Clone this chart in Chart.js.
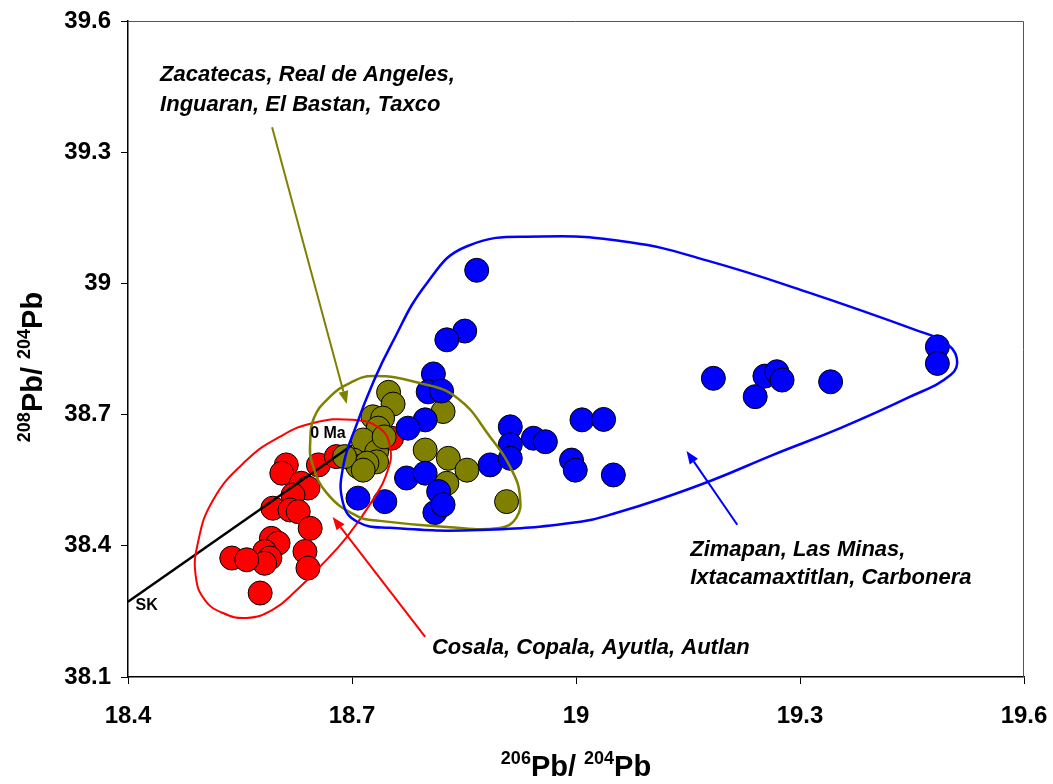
<!DOCTYPE html>
<html>
<head>
<meta charset="utf-8">
<script src="https://cdn.jsdelivr.net/npm/chart.js@4.4.0/dist/chart.umd.min.js"></script>
<style>
  html, body { margin: 0; padding: 0; background: #fff; }
  #wrap { width: 1053px; height: 784px; }
</style>
</head>
<body>
<div id="wrap"><canvas id="pb-chart" width="1053" height="784"></canvas></div>
<script>
// tick labels
const xTicks = [18.4, 18.7, 19, 19.3, 19.6];
const yTicks = [38.1, 38.4, 38.7, 39, 39.3, 39.6];

// Cosala, Copala, Ayutla, Autlan
const redX = [18.612, 18.606, 18.655, 18.679, 18.632, 18.641, 18.621, 18.594, 18.617, 18.628, 18.644,
  18.592, 18.601, 18.583, 18.590, 18.583, 18.539, 18.559, 18.637, 18.641, 18.577, 18.753];
const redY = [38.585, 38.566, 38.585, 38.604, 38.543, 38.532, 38.516, 38.486, 38.482, 38.478, 38.440,
  38.417, 38.406, 38.387, 38.372, 38.360, 38.372, 38.368, 38.387, 38.349, 38.292, 38.646];

// Zacatecas, Real de Angeles, Inguaran, El Bastan, Taxco
const oliveX = [18.749, 18.755, 18.728, 18.741, 18.735, 18.724, 18.715, 18.733, 18.702, 18.708, 18.733,
  18.720, 18.690, 18.822, 18.798, 18.829, 18.854, 18.827, 18.907, 18.743, 18.715];
const oliveY = [38.751, 38.724, 38.695, 38.692, 38.669, 38.631, 38.642, 38.615, 38.596, 38.581, 38.592,
  38.589, 38.604, 38.707, 38.619, 38.600, 38.573, 38.543, 38.501, 38.649, 38.573];

// Zimapan, Las Minas, Ixtacamaxtitlan, Carbonera
const blueX = [18.867, 18.851, 18.827, 18.809, 18.802, 18.820, 18.798, 18.775, 18.708, 18.744, 18.773,
  18.798, 18.816, 18.811, 18.822, 18.885, 18.912, 18.912, 18.912, 18.943, 18.959, 18.994, 18.999,
  19.008, 19.037, 19.050, 19.184, 19.240, 19.253, 19.269, 19.276, 19.341, 19.484, 19.484];
const blueY = [39.030, 38.891, 38.871, 38.793, 38.752, 38.754, 38.688, 38.669, 38.509, 38.501, 38.555,
  38.566, 38.524, 38.476, 38.494, 38.585, 38.672, 38.631, 38.600, 38.646, 38.638, 38.596, 38.573,
  38.688, 38.689, 38.562, 38.783, 38.741, 38.788, 38.798, 38.779, 38.775, 38.855, 38.817];

// Stacey-Kramers growth curve, ends at 0 Ma
const skX = [18.4, 18.7];
const skY = [38.272, 38.630];

// hand drawn field outlines
const redEnvX = [18.701, 18.737, 18.751, 18.748, 18.728, 18.693, 18.657, 18.626, 18.594, 18.559, 18.526,
  18.503, 18.491, 18.493, 18.514, 18.559, 18.603, 18.648];
const redEnvY = [38.688, 38.669, 38.626, 38.573, 38.505, 38.420, 38.352, 38.299, 38.254, 38.235, 38.247,
  38.276, 38.327, 38.402, 38.505, 38.596, 38.649, 38.681];
const oliveEnvX = [18.728, 18.791, 18.841, 18.885, 18.914, 18.925, 18.920, 18.898, 18.827, 18.737, 18.707,
  18.666, 18.646, 18.644, 18.649, 18.670, 18.697];
const oliveEnvY = [38.788, 38.772, 38.738, 38.649, 38.573, 38.512, 38.464, 38.441, 38.443, 38.457, 38.468,
  38.521, 38.592, 38.635, 38.692, 38.740, 38.772];
const blueEnvX = [18.854, 18.953, 19.072, 19.176, 19.310, 19.459, 19.493, 19.510, 19.502, 19.444, 19.354,
  19.264, 19.184, 19.113, 19.059, 19.006, 18.871, 18.751, 18.707, 18.688, 18.688, 18.707, 18.728, 18.751, 18.800];
const blueEnvY = [39.085, 39.107, 39.094, 39.052, 38.980, 38.891, 38.866, 38.829, 38.791, 38.738, 38.669,
  38.608, 38.551, 38.507, 38.478, 38.455, 38.436, 38.441, 38.455, 38.498, 38.580, 38.681, 38.772, 38.855, 39.000];

const RED = '#ff0000';
const OLIVE = '#808000';
const BLUE = '#0000ff';
const FONT = 'Arial, "Liberation Sans", Helvetica, sans-serif';

// annotations, in data units
const arrows = [
  { color: OLIVE, from: [18.593, 39.357], to: [18.693, 38.724] },
  { color: RED, from: [18.798, 38.192], to: [18.674, 38.466] },
  { color: BLUE, from: [19.216, 38.448], to: [19.148, 38.617] }
];
const notes = [
  { text: 'Zacatecas, Real de Angeles,', x: 18.443, y: 39.476, size: 22, style: 'italic bold' },
  { text: 'Inguaran, El Bastan, Taxco', x: 18.443, y: 39.407, size: 22, style: 'italic bold' },
  { text: 'Cosala, Copala, Ayutla, Autlan', x: 18.807, y: 38.167, size: 22, style: 'italic bold' },
  { text: 'Zimapan, Las Minas,', x: 19.153, y: 38.391, size: 22, style: 'italic bold' },
  { text: 'Ixtacamaxtitlan, Carbonera', x: 19.153, y: 38.327, size: 22, style: 'italic bold' },
  { text: '0 Ma', x: 18.644, y: 38.656, size: 16, style: 'bold' },
  { text: 'SK', x: 18.410, y: 38.263, size: 16, style: 'bold' }
];

function toPoints(xs, ys) {
  return xs.map((x, i) => ({ x: x, y: ys[i] }));
}

// closed smooth loop: pad with neighbours and hide the two padding segments
function outline(xs, ys, color, width, order) {
  const pts = toPoints(xs, ys);
  const n = pts.length;
  return {
    data: [pts[n - 1], ...pts, pts[0], pts[1]],
    showLine: true,
    pointRadius: 0,
    borderColor: color,
    borderWidth: width,
    tension: 0.45,
    fill: false,
    order: order,
    segment: {
      borderColor: c => (c.p0DataIndex === 0 || c.p0DataIndex === n + 1) ? 'rgba(0,0,0,0)' : color
    }
  };
}

function dots(xs, ys, color, order) {
  return {
    data: toPoints(xs, ys),
    backgroundColor: color,
    borderColor: '#000',
    borderWidth: 1,
    pointRadius: 12,
    order: order
  };
}

function fmt(v) {
  return String(parseFloat(Number(v).toFixed(1)));
}

function drawSupText(ctx, parts, cx, baseY) {
  const big = 'bold 29px ' + FONT;
  const small = 'bold 18px ' + FONT;
  let total = 0;
  parts.forEach(p => {
    ctx.font = p.sup ? small : big;
    p.w = ctx.measureText(p.t).width;
    total += p.w;
  });
  let x = cx - total / 2;
  ctx.textAlign = 'left';
  ctx.textBaseline = 'alphabetic';
  ctx.fillStyle = '#000';
  parts.forEach(p => {
    ctx.font = p.sup ? small : big;
    ctx.fillText(p.t, x, p.sup ? baseY - 12 : baseY);
    x += p.w;
  });
}

const decorPlugin = {
  id: 'decor',
  beforeDatasetsDraw(chart) {
    const { ctx, chartArea: a } = chart;
    ctx.save();
    ctx.strokeStyle = '#555';
    ctx.lineWidth = 1;
    ctx.beginPath();
    ctx.moveTo(a.left, a.top + 0.5);
    ctx.lineTo(a.right - 0.5, a.top + 0.5);
    ctx.lineTo(a.right - 0.5, a.bottom);
    ctx.stroke();
    ctx.restore();
  },
  afterDatasetsDraw(chart) {
    const { ctx, scales: { x, y } } = chart;
    ctx.save();
    arrows.forEach(ar => {
      const x0 = x.getPixelForValue(ar.from[0]), y0 = y.getPixelForValue(ar.from[1]);
      const x1 = x.getPixelForValue(ar.to[0]), y1 = y.getPixelForValue(ar.to[1]);
      const ang = Math.atan2(y1 - y0, x1 - x0);
      const len = 13, half = 5;
      const bx = x1 - len * Math.cos(ang), by = y1 - len * Math.sin(ang);
      ctx.strokeStyle = ar.color;
      ctx.fillStyle = ar.color;
      ctx.lineWidth = 2;
      ctx.beginPath();
      ctx.moveTo(x0, y0);
      ctx.lineTo(bx, by);
      ctx.stroke();
      ctx.beginPath();
      ctx.moveTo(x1, y1);
      ctx.lineTo(bx + half * Math.sin(ang), by - half * Math.cos(ang));
      ctx.lineTo(bx - half * Math.sin(ang), by + half * Math.cos(ang));
      ctx.closePath();
      ctx.fill();
    });
    ctx.fillStyle = '#000';
    ctx.textAlign = 'left';
    ctx.textBaseline = 'middle';
    notes.forEach(n => {
      ctx.font = n.style + ' ' + n.size + 'px ' + FONT;
      ctx.fillText(n.text, x.getPixelForValue(n.x), y.getPixelForValue(n.y));
    });
    ctx.restore();
  },
  afterDraw(chart) {
    const ctx = chart.ctx;
    ctx.save();
    drawSupText(ctx, [{ t: '206', sup: true }, { t: 'Pb/ ' }, { t: '204', sup: true }, { t: 'Pb' }], 576, 776);
    ctx.restore();
    ctx.save();
    ctx.translate(42, 367);
    ctx.rotate(-Math.PI / 2);
    drawSupText(ctx, [{ t: '208', sup: true }, { t: 'Pb/ ' }, { t: '204', sup: true }, { t: 'Pb' }], 0, 0);
    ctx.restore();
  }
};

const tickFont = { family: FONT, size: 24, weight: 'bold' };

new Chart(document.getElementById('pb-chart'), {
  type: 'scatter',
  data: {
    datasets: [
      outline(blueEnvX, blueEnvY, BLUE, 2.5, 0),
      outline(oliveEnvX, oliveEnvY, OLIVE, 2.5, 1),
      outline(redEnvX, redEnvY, RED, 2, 2),
      {
        data: toPoints(skX, skY),
        showLine: true,
        pointRadius: 0,
        borderColor: '#000',
        borderWidth: 2.5,
        order: 3
      },
      dots(blueX, blueY, BLUE, 4),
      dots(oliveX, oliveY, OLIVE, 5),
      dots(redX, redY, RED, 6)
    ]
  },
  options: {
    responsive: false,
    animation: false,
    events: [],
    layout: { padding: { left: 0, right: 29, top: 21, bottom: 0 } },
    plugins: {
      legend: { display: false },
      tooltip: { enabled: false }
    },
    scales: {
      x: {
        type: 'linear',
        min: 18.4,
        max: 19.6,
        afterBuildTicks: s => { s.ticks = xTicks.map(v => ({ value: v })); },
        afterFit: s => { s.height = 107; s.paddingLeft = 0; s.paddingRight = 0; },
        ticks: {
          callback: v => fmt(v),
          font: tickFont,
          color: '#000',
          padding: 18,
          maxRotation: 0,
          autoSkip: false
        },
        grid: { drawOnChartArea: false, tickLength: 7, color: '#000', lineWidth: 1 },
        border: { color: '#000', width: 1.5 }
      },
      y: {
        type: 'linear',
        min: 38.1,
        max: 39.6,
        afterBuildTicks: s => { s.ticks = yTicks.map(v => ({ value: v })); },
        afterFit: s => { s.width = 128; s.paddingTop = 0; s.paddingBottom = 0; },
        ticks: {
          callback: v => fmt(v),
          font: tickFont,
          color: '#000',
          padding: 10,
          autoSkip: false
        },
        grid: { drawOnChartArea: false, tickLength: 7, color: '#000', lineWidth: 1 },
        border: { color: '#000', width: 1.5 }
      }
    }
  },
  plugins: [decorPlugin]
});
</script>
</body>
</html>
